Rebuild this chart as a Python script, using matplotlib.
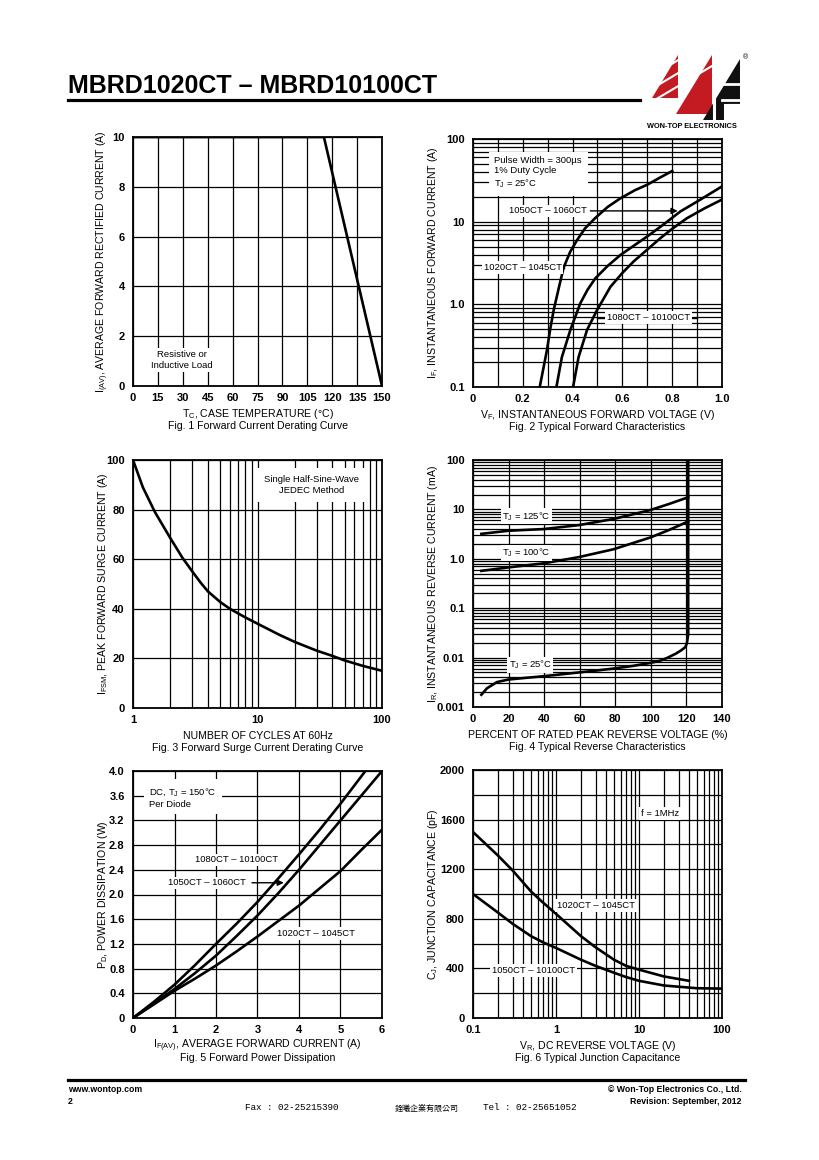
import numpy as np
import matplotlib
matplotlib.use("Agg")
import matplotlib.pyplot as plt
from matplotlib import ticker
from matplotlib.patches import Polygon

plt.rcParams['font.family'] = ['Liberation Sans', 'DejaVu Sans']
plt.rcParams['mathtext.fontset'] = 'custom'
plt.rcParams['mathtext.rm'] = 'Liberation Sans'
plt.rcParams['mathtext.it'] = 'Liberation Sans'
plt.rcParams['mathtext.bf'] = 'Liberation Sans:bold'

W, H = 820, 1160

# ---- Fig 1: derating curve
f1_temp = [0, 115, 150]
f1_curr = [10, 10, 0]

# ---- Fig 2: forward characteristics (V, A)
f2_a_v = [0.268, 0.283, 0.297, 0.31, 0.324, 0.345, 0.364, 0.39, 0.418, 0.45, 0.49, 0.54, 0.59, 0.65, 0.70, 0.75, 0.80]
f2_a_i = [0.1, 0.17, 0.28, 0.5, 0.85, 1.6, 2.78, 4.3, 6.0, 8.3, 11, 15, 19, 24, 28, 34, 41]
f2_b_v = [0.335, 0.357, 0.391, 0.431, 0.46, 0.491, 0.54, 0.592, 0.645, 0.699, 0.76, 0.833, 0.90, 1.0]
f2_b_i = [0.1, 0.23, 0.49, 1.03, 1.5, 2.06, 2.9, 3.95, 5.1, 6.6, 9.0, 13.3, 17.5, 26.7]
f2_c_v = [0.402, 0.424, 0.458, 0.498, 0.552, 0.60, 0.645, 0.70, 0.752, 0.80, 0.859, 0.93, 1.0]
f2_c_i = [0.1, 0.23, 0.49, 0.85, 1.63, 2.4, 3.3, 4.6, 6.3, 8.2, 11, 14.5, 18.5]

# ---- Fig 3: surge current
f3_cycles = [1, 1.2, 1.5, 2, 2.5, 3, 3.5, 4, 5, 6, 8, 10, 15, 20, 30, 40, 50, 70, 100]
f3_curr = [100, 89, 79, 68.4, 60.5, 55, 50.5, 47, 42.8, 40, 36.5, 34, 29.5, 26.6, 23.1, 21, 19.2, 17, 15]

# ---- Fig 4: reverse characteristics (% , mA)
f4_pct = [4.7, 20, 39.7, 59.4, 79, 99.7, 110, 121]
f4_125 = [3.2, 3.7, 4.0, 4.8, 6.4, 9.7, 12.8, 17.6]
f4_100 = [0.57, 0.67, 0.81, 1.08, 1.56, 2.7, 3.8, 5.7]
f4_25_pct = [4.7, 7.9, 13.5, 20, 30, 39.7, 50, 59.4, 70, 79, 90, 99.7, 105, 109, 114, 117, 119.4, 120.3, 121, 121]
f4_25 = [0.00177, 0.0024, 0.0032, 0.0036, 0.0039, 0.0042, 0.0046, 0.005, 0.0055, 0.006, 0.0068, 0.0078,
         0.0086, 0.0098, 0.012, 0.014, 0.0163, 0.0197, 0.03, 100]

# ---- Fig 5: power dissipation
f5_cur = [0, 0.5, 1, 1.5, 2, 2.5, 3, 3.5, 4, 4.5, 5, 5.5, 6]
f5_1080_cur = [0, 0.5, 1, 1.5, 2, 2.5, 3, 3.5, 4, 4.5, 5, 5.6]
f5_1080 = [0, 0.26, 0.54, 0.86, 1.2, 1.53, 1.88, 2.26, 2.65, 3.05, 3.47, 4.0]
f5_1050 = [0, 0.23, 0.47, 0.73, 1.01, 1.33, 1.66, 2.02, 2.4, 2.8, 3.2, 3.6, 4.0]
f5_1020 = [0, 0.22, 0.44, 0.64, 0.85, 1.08, 1.32, 1.57, 1.82, 2.1, 2.38, 2.72, 3.05]

# ---- Fig 6: junction capacitance
f6_hi_v = [0.1, 0.2, 0.3, 0.5, 0.7, 1, 2, 3, 5, 7, 10, 20, 40]
f6_hi_c = [1500, 1310, 1190, 1020, 930, 840, 660, 570, 470, 420, 390, 335, 300]
f6_lo_v = [0.1, 0.2, 0.3, 0.5, 0.7, 1, 2, 3, 5, 7, 10, 20, 50, 100]
f6_lo_c = [1000, 850, 760, 660, 610, 565, 470, 420, 365, 330, 300, 262, 240, 237]

fig = plt.figure(figsize=(8.2, 11.6), dpi=100)

def fx(x):
    return x / W

def fy(y):
    return 1 - y / H

def px_axes(x0, y0, x1, y1):
    return fig.add_axes([x0 / W, 1 - y1 / H, (x1 - x0) / W, (y1 - y0) / H])

BOX = dict(facecolor='white', edgecolor='none', pad=1.2)
LW = 1.9
FS = 6.8

def style(ax, xlabel, caption, ylabel, ydx):
    ax.set_axisbelow(True)
    for s in ax.spines.values():
        s.set_linewidth(1.3)
    ax.tick_params(which='both', length=0, labelsize=8, pad=5)
    ax.tick_params(axis='y', pad=6)
    for lab in ax.get_xticklabels() + ax.get_yticklabels():
        lab.set_fontweight('bold')
    ax.grid(True, which='both', color='black', lw=0.9)
    ax.annotate(xlabel, xy=(0.5, 0), xycoords='axes fraction', xytext=(0, -28 * 0.72),
                textcoords='offset points', ha='center', va='center', fontsize=7.6)
    ax.annotate(caption, xy=(0.5, 0), xycoords='axes fraction', xytext=(0, -40 * 0.72),
                textcoords='offset points', ha='center', va='center', fontsize=7.6)
    ax.annotate(ylabel, xy=(0, 0.5), xycoords='axes fraction', xytext=(-ydx * 0.72, 0),
                textcoords='offset points', ha='center', va='center', rotation=90, fontsize=7.6)

def fmt_list(labels):
    return ticker.FixedFormatter(labels)

def label(ax, x, y, s, ha='left', va='center', **kw):
    ax.text(x, y, s, ha=ha, va=va, fontsize=FS, zorder=5, bbox=kw.pop('bbox', BOX), **kw)

# ===== Fig 1
ax1 = px_axes(133, 137, 382, 386)
ax1.plot(f1_temp, f1_curr, color='black', lw=LW, zorder=3)
ax1.set_xlim(0, 150)
ax1.set_ylim(0, 10)
ax1.set_xticks(np.arange(0, 151, 15))
ax1.set_yticks(np.arange(0, 11, 2))
label(ax1, 29.5, 1.04, "Resistive or\nInductive Load", ha='center', linespacing=1.3)
style(ax1, "T$_C$, CASE TEMPERATURE (°C)", "Fig. 1 Forward Current Derating Curve",
      "I$_{(AV)}$, AVERAGE FORWARD RECTIFIED CURRENT (A)", 30)

# ===== Fig 2
ax2 = px_axes(473, 139, 722, 387)
ax2.set_yscale('log')
ax2.plot(f2_a_v, f2_a_i, color='black', lw=LW, zorder=3)
ax2.plot(f2_b_v, f2_b_i, color='black', lw=LW, zorder=3)
ax2.plot(f2_c_v, f2_c_i, color='black', lw=LW, zorder=3)
ax2.set_xlim(0, 1.0)
ax2.set_ylim(0.1, 100)
ax2.set_xticks([0, 0.2, 0.4, 0.6, 0.8, 1.0])
ax2.xaxis.set_major_formatter(fmt_list(['0', '0.2', '0.4', '0.6', '0.8', '1.0']))
ax2.xaxis.set_minor_locator(ticker.MultipleLocator(0.1))
ax2.set_yticks([0.1, 1, 10, 100])
ax2.yaxis.set_major_formatter(fmt_list(['0.1', '1.0', '10', '100']))
ax2.yaxis.set_minor_locator(ticker.LogLocator(base=10, subs=range(2, 10)))
ax2.yaxis.set_minor_formatter(ticker.NullFormatter())
label(ax2, 0.086, 63, "Pulse Width = 300µs\n1% Duty Cycle\nT$_J$ = 25°C", va='top',
      linespacing=1.25, bbox=dict(facecolor='white', edgecolor='none', pad=4))
ax2.plot([0.035, 0.364], [2.78, 2.78], color='black', lw=1, zorder=4)
label(ax2, 0.2, 2.78, "1020CT – 1045CT", ha='center')
ax2.annotate('', xy=(0.833, 13.5), xytext=(0.46, 13.5),
             arrowprops=dict(arrowstyle='-|>', color='black', lw=1, mutation_scale=9), zorder=4)
label(ax2, 0.30, 13.5, "1050CT – 1060CT", ha='center')
ax2.plot([0.50, 0.90], [0.69, 0.69], color='black', lw=1, zorder=4)
label(ax2, 0.705, 0.69, "1080CT – 10100CT", ha='center')
style(ax2, "V$_F$, INSTANTANEOUS FORWARD VOLTAGE (V)", "Fig. 2 Typical Forward Characteristics",
      "I$_F$, INSTANTANEOUS FORWARD CURRENT (A)", 40)

# ===== Fig 3
ax3 = px_axes(133, 460, 382, 708)
ax3.set_xscale('log')
ax3.plot(f3_cycles, f3_curr, color='black', lw=LW, zorder=3)
ax3.set_xlim(1, 100)
ax3.set_ylim(0, 100)
ax3.set_xticks([1, 10, 100])
ax3.xaxis.set_major_formatter(fmt_list(['1', '10', '100']))
ax3.xaxis.set_minor_locator(ticker.LogLocator(base=10, subs=range(2, 10)))
ax3.xaxis.set_minor_formatter(ticker.NullFormatter())
ax3.set_yticks(np.arange(0, 101, 20))
label(ax3, 27, 90, "Single Half-Sine-Wave\nJEDEC Method", ha='center', linespacing=1.25,
      bbox=dict(facecolor='white', edgecolor='none', pad=5))
style(ax3, "NUMBER OF CYCLES AT 60Hz", "Fig. 3 Forward Surge Current Derating Curve",
      "I$_{FSM}$, PEAK FORWARD SURGE CURRENT (A)", 30)

# ===== Fig 4
ax4 = px_axes(473, 460, 722, 707)
ax4.set_yscale('log')
ax4.plot(f4_pct, f4_125, color='black', lw=LW, zorder=3)
ax4.plot(f4_pct, f4_100, color='black', lw=LW, zorder=3)
ax4.plot(f4_25_pct, f4_25, color='black', lw=LW, zorder=3)
ax4.set_xlim(0, 140)
ax4.set_ylim(0.001, 100)
ax4.set_xticks(np.arange(0, 141, 20))
ax4.set_yticks([0.001, 0.01, 0.1, 1, 10, 100])
ax4.yaxis.set_major_formatter(fmt_list(['0.001', '0.01', '0.1', '1.0', '10', '100']))
ax4.yaxis.set_minor_locator(ticker.LogLocator(base=10, subs=range(2, 10)))
ax4.yaxis.set_minor_formatter(ticker.NullFormatter())
label(ax4, 16.5, 7.2, "T$_J$ = 125°C")
label(ax4, 16.5, 1.3, "T$_J$ = 100°C")
label(ax4, 20, 0.0072, "T$_J$ = 25°C")
style(ax4, "PERCENT OF RATED PEAK REVERSE VOLTAGE (%)", "Fig. 4 Typical Reverse Characteristics",
      "I$_R$, INSTANTANEOUS REVERSE CURRENT (mA)", 40)

# ===== Fig 5
ax5 = px_axes(133, 771, 382, 1018)
ax5.plot(f5_1080_cur, f5_1080, color='black', lw=LW, zorder=3)
ax5.plot(f5_cur, f5_1050, color='black', lw=LW, zorder=3)
ax5.plot(f5_cur, f5_1020, color='black', lw=LW, zorder=3)
ax5.set_xlim(0, 6)
ax5.set_ylim(0, 4.0)
ax5.set_xticks(np.arange(0, 7, 1))
ax5.set_yticks(np.arange(0, 4.01, 0.4))
ax5.yaxis.set_major_formatter(fmt_list(['0', '0.4', '0.8', '1.2', '1.6', '2.0', '2.4', '2.8', '3.2', '3.6', '4.0']))
label(ax5, 0.39, 3.76, "DC, T$_J$ = 150°C\nPer Diode", va='top', linespacing=1.25,
      bbox=dict(facecolor='white', edgecolor='none', pad=4))
label(ax5, 1.49, 2.56, "1080CT – 10100CT")
ax5.annotate('', xy=(3.7, 2.19), xytext=(2.8, 2.19),
             arrowprops=dict(arrowstyle='-|>', color='black', lw=1, mutation_scale=9), zorder=4)
label(ax5, 0.85, 2.19, "1050CT – 1060CT")
label(ax5, 3.46, 1.37, "1020CT – 1045CT")
style(ax5, "I$_{F(AV)}$, AVERAGE FORWARD CURRENT (A)", "Fig. 5 Forward Power Dissipation",
      "P$_D$, POWER DISSIPATION (W)", 30)

# ===== Fig 6
ax6 = px_axes(473, 770, 722, 1018)
ax6.set_xscale('log')
ax6.plot(f6_hi_v, f6_hi_c, color='black', lw=LW, zorder=3)
ax6.plot(f6_lo_v, f6_lo_c, color='black', lw=LW, zorder=3)
ax6.set_xlim(0.1, 100)
ax6.set_ylim(0, 2000)
ax6.set_xticks([0.1, 1, 10, 100])
ax6.xaxis.set_major_formatter(fmt_list(['0.1', '1', '10', '100']))
ax6.xaxis.set_minor_locator(ticker.LogLocator(base=10, subs=range(2, 10)))
ax6.xaxis.set_minor_formatter(ticker.NullFormatter())
ax6.set_yticks(np.arange(0, 2001, 400))
ax6.yaxis.set_minor_locator(ticker.MultipleLocator(200))
label(ax6, 18, 1650, "f = 1MHz", ha='center')
label(ax6, 1.03, 907, "1020CT – 1045CT")
label(ax6, 0.17, 384, "1050CT – 10100CT")
style(ax6, "V$_R$, DC REVERSE VOLTAGE (V)", "Fig. 6 Typical Junction Capacitance",
      "C$_J$, JUNCTION CAPACITANCE (pF)", 40)

# ===== header
fig.text(fx(68), fy(93), "MBRD1020CT – MBRD10100CT", fontweight='bold', fontsize=18,
         va='baseline', ha='left')
fig.add_artist(plt.Line2D([fx(68), fx(640)], [fy(100), fy(100)], color='black', lw=2.3,
                          transform=fig.transFigure))

# logo, drawn roughly from slanted red and black blocks cut by white stripes
def poly(pts, color):
    fig.add_artist(Polygon([(fx(x), fy(y)) for x, y in pts], closed=True, facecolor=color,
                           edgecolor='none', transform=fig.transFigure))

def stripe(x0, y0, x1, y1, lw=1.5):
    fig.add_artist(plt.Line2D([fx(x0), fx(x1)], [fy(y0), fy(y1)], color='white', lw=lw,
                              transform=fig.transFigure))

red = '#c41a22'
poly([(652, 98), (678, 55), (678, 98)], red)
poly([(676, 114), (712, 55), (712, 114)], red)
poly([(703, 120), (740, 59), (740, 120)], '#111111')
for off in (0, 13, 26):
    stripe(648, 104 - off, 712, 66 - off)
stripe(714, 120, 714, 60, lw=2.2)
stripe(722, 84, 742, 84, lw=2.0)
stripe(722, 100, 742, 100, lw=2.0)
stripe(728, 104, 742, 104, lw=0.1)
poly([(724, 104), (741, 104), (741, 121), (724, 121)], 'white')
fig.text(fx(743), fy(58), "®", fontsize=5, ha='left', va='center')
fig.text(fx(692), fy(127), "WON-TOP ELECTRONICS", fontsize=5.3, fontweight='bold',
         ha='center', va='center')

# ===== footer
fig.add_artist(plt.Line2D([fx(68), fx(745)], [fy(1080), fy(1080)], color='black', lw=2.3,
                          transform=fig.transFigure))
fig.text(fx(68), fy(1090), "www.wontop.com", fontsize=6.3, fontweight='bold', ha='left', va='center')
fig.text(fx(68), fy(1102), "2", fontsize=6.3, fontweight='bold', ha='left', va='center')
fig.text(fx(742), fy(1090), "© Won-Top Electronics Co., Ltd.", fontsize=6.3, fontweight='bold',
         ha='right', va='center')
fig.text(fx(742), fy(1102), "Revision: September, 2012", fontsize=6.3, fontweight='bold',
         ha='right', va='center')
fig.text(fx(245), fy(1108), "Fax : 02-25215390", family='Liberation Mono', fontsize=6.7,
         ha='left', va='center')
fig.text(fx(395), fy(1108), "銓曦企業有限公司", family=['Noto Sans CJK TC', 'DejaVu Sans'],
         fontsize=5.8, ha='left', va='center')
fig.text(fx(483), fy(1108), "Tel : 02-25651052", family='Liberation Mono', fontsize=6.7,
         ha='left', va='center')

fig.savefig("out.png", dpi=100)
